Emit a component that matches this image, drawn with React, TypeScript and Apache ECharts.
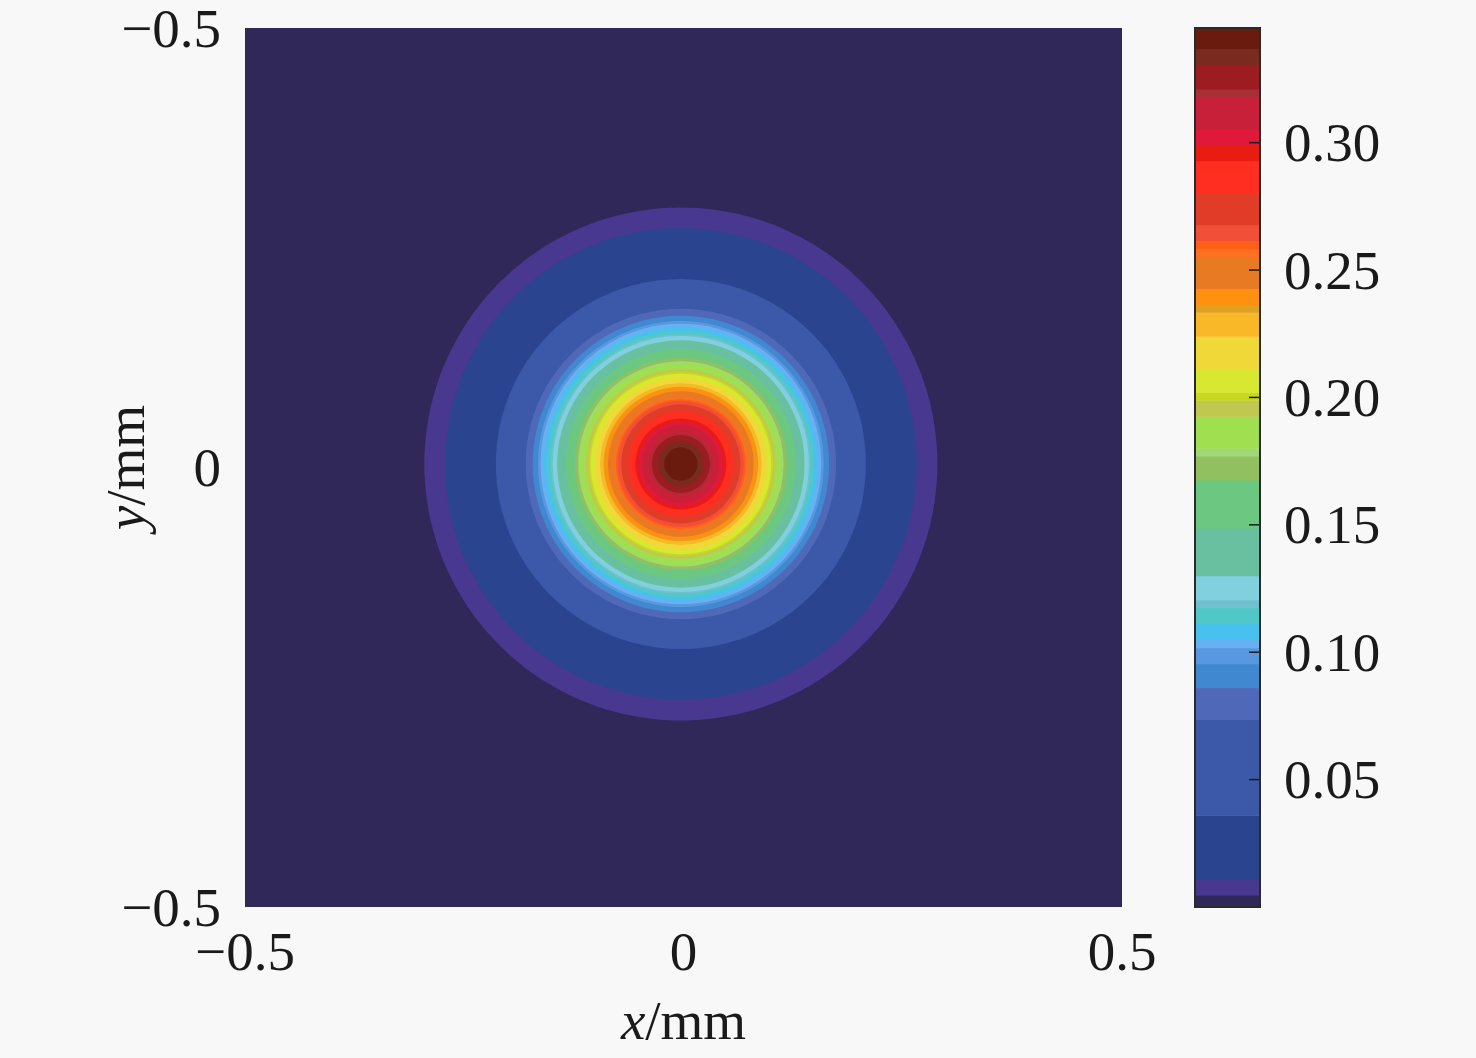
import { useEffect, useRef } from "react";
import * as echarts from "echarts";

// contour level edges (colour-bar values)
const levels = [
  0, 0.0047, 0.011, 0.036, 0.0736, 0.0861, 0.0955, 0.1018, 0.1049, 0.1112,
  0.1175, 0.1206, 0.13, 0.1488, 0.1676, 0.177, 0.1801, 0.1926, 0.1989, 0.202,
  0.2114, 0.224, 0.2334, 0.2365, 0.2428, 0.2553, 0.2584, 0.2616, 0.2678,
  0.2803, 0.2929, 0.2991, 0.3054, 0.318, 0.3211, 0.3305, 0.3367, 0.345,
];

// one colour per band between consecutive levels
const bandColors = [
  "#302858", "#483890", "#2a4490", "#3c58a8", "#5068b8", "#4088d0", "#5898e0",
  "#68b0f0", "#48c0f0", "#50c8c8", "#70c0d0", "#80d0e0", "#68c0a0", "#6cc880",
  "#90c060", "#a0d878", "#a0e050", "#c0c850", "#c8d820", "#d8e830", "#f0d838",
  "#f8b828", "#e0a020", "#ff9010", "#e87a24", "#ff7020", "#ff6018", "#f05038",
  "#e03c28", "#ff2e20", "#e81c10", "#e0183a", "#c82038", "#a83035", "#9c1c22",
  "#7a2a1e", "#6b1a0e",
];

// beam centre (mm) and radius (mm) at which intensity crosses levels[1..36]
const beamCenter = [-0.003, 0.004];
const ringRadii = [
  0.2925, 0.269, 0.211, 0.177, 0.169, 0.163, 0.16, 0.156, 0.152, 0.148, 0.146,
  0.141, 0.131, 0.121, 0.117, 0.115, 0.108, 0.105, 0.103, 0.098, 0.092, 0.088,
  0.087, 0.083, 0.076, 0.074, 0.072, 0.068, 0.06, 0.052, 0.049, 0.044, 0.035,
  0.033, 0.026, 0.019,
];

const xTickValues = [-0.5, 0, 0.5];
const xTickLabels = ["\u22120.5", "0", "0.5"];
const yTickValues = [-0.5, 0, 0.5];
const yTickLabels = ["\u22120.5", "0", "\u22120.5"];
const colorbarTicks = [0.05, 0.1, 0.15, 0.2, 0.25, 0.3];

const FONT = "Liberation Serif";
const TEXT = "#1a1a1a";

export default function App() {
  const ref = useRef<HTMLDivElement>(null);

  useEffect(() => {
    if (!ref.current) return;
    const chart = echarts.init(ref.current, null, { renderer: "svg" });

    const ringData = ringRadii.map((r, i) => [beamCenter[0], beamCenter[1], r, i + 1]);
    const barData = bandColors.map((_, i) => [levels[i], levels[i + 1], i]);
    const tickData = colorbarTicks.map((v) => [1, v]);

    const labelFor = (vals: number[], labels: string[]) => (v: number) => {
      const idx = vals.findIndex((t) => Math.abs(t - v) < 1e-9);
      return idx >= 0 ? labels[idx] : "";
    };

    chart.setOption({
      animation: false,
      backgroundColor: "#f8f8f8",
      grid: [
        {
          left: 245,
          top: 28,
          width: 877,
          height: 879,
          show: true,
          backgroundColor: bandColors[0],
          borderWidth: 0,
        },
        { left: 1195, top: 28, width: 65, height: 879, show: false },
      ],
      xAxis: [
        {
          gridIndex: 0,
          type: "value",
          min: -0.5,
          max: 0.5,
          interval: 0.5,
          axisLine: { show: false },
          axisTick: { show: false },
          splitLine: { show: false },
          axisLabel: {
            fontFamily: FONT,
            fontSize: 55,
            color: TEXT,
            margin: 17,
            formatter: labelFor(xTickValues, xTickLabels),
          },
          name: "{i|x}/mm",
          nameLocation: "middle",
          nameGap: 86,
          nameMoveOverlap: false,
          nameTextStyle: {
            fontFamily: FONT,
            fontSize: 55,
            color: TEXT,
            rich: {
              i: { fontFamily: FONT, fontSize: 55, fontStyle: "italic", color: TEXT },
            },
          },
        },
        {
          gridIndex: 1,
          type: "value",
          min: 0,
          max: 1,
          show: false,
        },
      ],
      yAxis: [
        {
          gridIndex: 0,
          type: "value",
          min: -0.5,
          max: 0.5,
          interval: 0.5,
          axisLine: { show: false },
          axisTick: { show: false },
          splitLine: { show: false },
          axisLabel: {
            fontFamily: FONT,
            fontSize: 55,
            lineHeight: 40,
            color: TEXT,
            margin: 24,
            formatter: labelFor(yTickValues, yTickLabels),
          },
          name: "{i|y}/mm",
          nameLocation: "middle",
          nameGap: 92,
          nameMoveOverlap: false,
          nameTextStyle: {
            fontFamily: FONT,
            fontSize: 55,
            color: TEXT,
            rich: {
              i: { fontFamily: FONT, fontSize: 55, fontStyle: "italic", color: TEXT },
            },
          },
        },
        {
          gridIndex: 1,
          type: "value",
          position: "right",
          min: 0,
          max: 0.345,
          axisLine: { show: false },
          splitLine: { show: false },
          axisTick: { show: false },
          axisLabel: {
            fontFamily: FONT,
            fontSize: 55,
            color: TEXT,
            margin: 24,
            customValues: colorbarTicks,
            formatter: (v: number) => v.toFixed(2),
          },
        },
      ],
      series: [
        {
          type: "custom",
          xAxisIndex: 0,
          yAxisIndex: 0,
          data: ringData,
          clip: true,
          renderItem: (_params: any, api: any) => {
            const c = api.coord([api.value(0), api.value(1)]);
            const r = api.size([api.value(2), 0])[0];
            return {
              type: "circle",
              shape: { cx: c[0], cy: c[1], r },
              style: { fill: bandColors[api.value(3)] },
            };
          },
        },
        {
          type: "custom",
          xAxisIndex: 1,
          yAxisIndex: 1,
          data: barData,
          z: 1,
          renderItem: (_params: any, api: any) => {
            const top = api.coord([0, api.value(1)]);
            const bot = api.coord([1, api.value(0)]);
            return {
              type: "rect",
              shape: {
                x: top[0],
                y: top[1],
                width: bot[0] - top[0],
                height: bot[1] - top[1] + 0.5,
              },
              style: { fill: bandColors[api.value(2)] },
            };
          },
        },
        {
          type: "custom",
          xAxisIndex: 1,
          yAxisIndex: 1,
          data: tickData,
          z: 4,
          renderItem: (_params: any, api: any) => {
            const p = api.coord([api.value(0), api.value(1)]);
            return {
              type: "line",
              shape: { x1: p[0] - 11, y1: p[1], x2: p[0], y2: p[1] },
              style: { stroke: "#1a1a1a", lineWidth: 1.5 },
            };
          },
        },
        {
          type: "custom",
          xAxisIndex: 1,
          yAxisIndex: 1,
          data: [[0, 0]],
          z: 5,
          renderItem: (params: any) => {
            const cs = params.coordSys;
            return {
              type: "rect",
              shape: { x: cs.x, y: cs.y, width: cs.width, height: cs.height },
              style: { fill: "none", stroke: "#2a2a2a", lineWidth: 2 },
            };
          },
        },
      ],
    });

    return () => chart.dispose();
  }, []);

  return (
    <div
      ref={ref}
      style={{
        position: "fixed",
        left: 0,
        top: 0,
        width: 1476,
        height: 1058,
        background: "#f8f8f8",
      }}
    />
  );
}
